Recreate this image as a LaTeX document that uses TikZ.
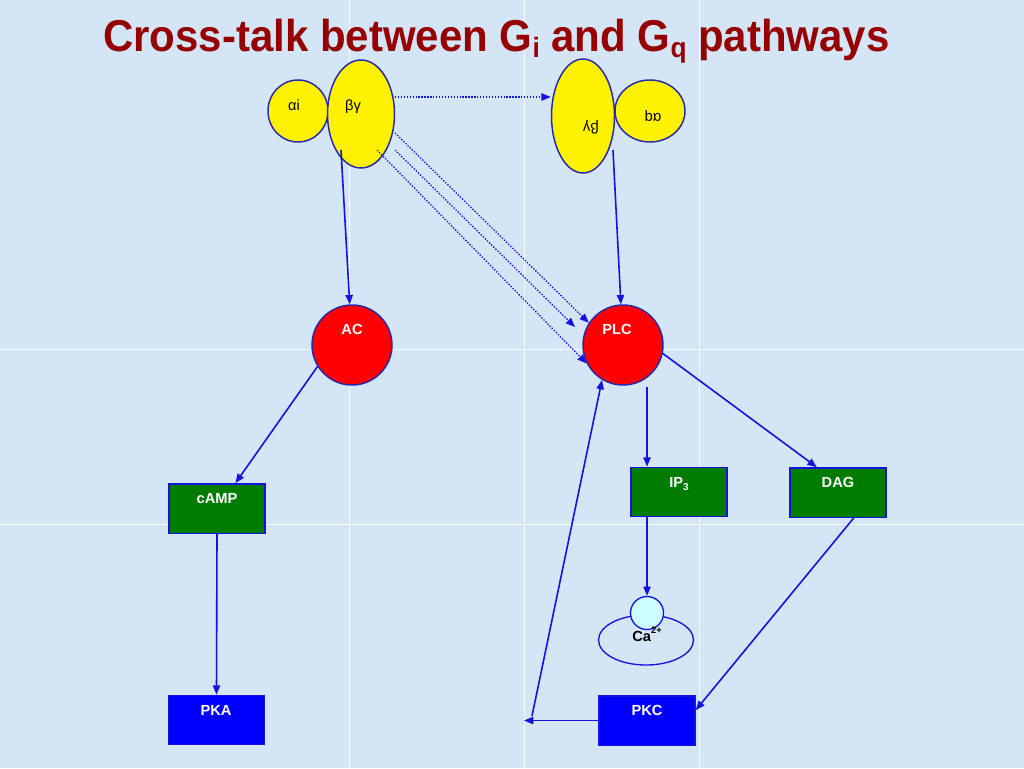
\documentclass[tikz,border=0pt]{standalone}
\usepackage{fontspec}
\setmainfont{Liberation Sans}
\newfontfamily\titlefont[FakeStretch=0.94]{Liberation Sans}
\usetikzlibrary{arrows.meta,shapes.geometric}

\definecolor{bgc}{RGB}{212,229,245}
\definecolor{lineblue}{RGB}{20,20,225}
\definecolor{edgeblue}{RGB}{40,40,170}
\definecolor{boxgreen}{RGB}{0,125,0}
\definecolor{titlered}{RGB}{150,0,0}
\definecolor{cacyan}{RGB}{204,255,255}

\tikzset{
  gsub/.style={ellipse, draw=edgeblue, line width=1.1pt, fill=yellow, inner sep=0pt},
  enz/.style={circle, draw=edgeblue, line width=1.1pt, fill=red, minimum size=60pt, inner sep=0pt},
  gbox/.style={rectangle, draw=lineblue, line width=1pt, fill=boxgreen, minimum width=72pt, minimum height=37pt, inner sep=0pt},
  bbox/.style={gbox, fill=blue},
  wlab/.style={text=white, font=\fontsize{11pt}{12pt}\selectfont\bfseries, anchor=base, inner sep=0pt},
  glab/.style={text=black, font=\fontsize{11pt}{12pt}\selectfont, inner sep=0pt},
  conn/.style={draw=lineblue, line width=1.2pt, -{Triangle[length=7pt,width=5.5pt]}},
  dconn/.style={conn, line width=1pt, dash pattern=on 1pt off 1.2pt},
  gridline/.style={white, line width=0.7pt, opacity=0.85}
}

\begin{document}
\begin{tikzpicture}[x=0.75pt,y=-0.75pt]
\fill[bgc] (0,0) rectangle (1024,768);
\useasboundingbox (0,0) rectangle (1024,768);
\draw[gridline] (349,0) -- (349,768);
\draw[gridline] (524,0) -- (524,768);
\draw[gridline] (699,0) -- (699,768);
\draw[gridline] (0,349) -- (1024,349);
\draw[gridline] (0,524) -- (1024,524);

% title
\node[anchor=base west, inner sep=0pt, text=titlered, font=\titlefont\bfseries\fontsize{33.5pt}{36pt}\selectfont] (title) at (103,51)
  {Cross-talk between G\raisebox{-0.14em}{\fontsize{21pt}{22pt}\selectfont i} and G\raisebox{-0.14em}{\fontsize{21pt}{22pt}\selectfont q} pathways};

% G proteins
\node[gsub, minimum width=45pt, minimum height=46.5pt] (ai) at (298,111) {};
\node[gsub, minimum width=50.25pt, minimum height=81pt] (bg1) at (361,114) {};
\node[gsub, minimum width=47.25pt, minimum height=85.5pt] (bg2) at (583,116) {};
\node[gsub, minimum width=52.5pt, minimum height=46.5pt] (aq) at (650,111) {};
\node[glab, anchor=base] (ait) at (294,110) {αi};
\node[glab, anchor=base] (bg1t) at (353,110) {βγ};
\node[glab, rotate=180] (bg2t) at (591,127) {βγ};
\node[glab, rotate=180] (aqt) at (653,116) {αq};

% enzymes
\node[enz] (AC) at (352,345) {};
\node[enz] (PLC) at (623,345) {};
\node[wlab] (ACt) at (352,334) {AC};
\node[wlab] (PLCt) at (617,334) {PLC};

% boxes
\node[gbox] (cAMP) at (217,508.5) {};
\node[bbox] (PKA) at (216.5,720) {};
\node[gbox] (IP3) at (679,492) {};
\node[gbox] (DAG) at (838,492.5) {};
\node[bbox] (PKC) at (647,720.5) {};
\node[wlab] (cAMPt) at (217,503) {cAMP};
\node[wlab] (PKAt) at (216,715) {PKA};
\node[wlab] (IP3t) at (679,487) {IP\raisebox{-0.25em}{\fontsize{7.5pt}{8pt}\selectfont 3}};
\node[wlab] (DAGt) at (838,487) {DAG};
\node[wlab] (PKCt) at (647,715) {PKC};

% calcium store
\node[ellipse, draw=lineblue, line width=1pt, minimum width=71.25pt, minimum height=37.5pt, inner sep=0pt] (store) at (646,640) {};
\node[circle, draw=lineblue, line width=1pt, fill=cacyan, minimum size=24.75pt, inner sep=0pt] (Ca) at (647,613) {};
\node[glab, anchor=base, font=\fontsize{11pt}{12pt}\selectfont\bfseries] (Cat) at (647,641) {Ca\raisebox{0.5em}{\fontsize{7pt}{8pt}\selectfont 2+}};

% coordinates
\coordinate (s1) at (341,150);
\coordinate (s2) at (613,150);
\coordinate (d0) at (395,97);
\coordinate (e1) at (395,133);
\coordinate (e2) at (395,150);
\coordinate (e3) at (377,150);
\coordinate (f2) at (575,327);
\coordinate (c1) at (647,387);
\coordinate (k1) at (524,720.5);
\coordinate (k2) at (532,716);

% connectors
\draw[conn] (s1) -- (AC);
\draw[conn] (s2) -- (PLC);
\draw[dconn] (d0) -- (d0 -| bg2.west);
\draw[dconn] (e1) -- (PLC.147);
\draw[dconn] (e2) -- (f2);
\draw[dconn] (e3) -- (PLC.207);
\draw[conn] (AC.212.7) -- (cAMP.54);
\draw[conn] (cAMP.south) -- (PKA.north);
\draw[conn] (c1) -- (c1 |- IP3.north);
\draw[conn] (PLC.-12) -- (DAG.130);
\draw[conn] (c1 |- IP3.south) -- (Ca.north);
\draw[conn] (DAG.-58.5) -- (PKC.12);
\draw[conn] (PKC.west) -- (k1);
\draw[conn] (k2) -- (PLC.239);
\end{tikzpicture}
\end{document}
